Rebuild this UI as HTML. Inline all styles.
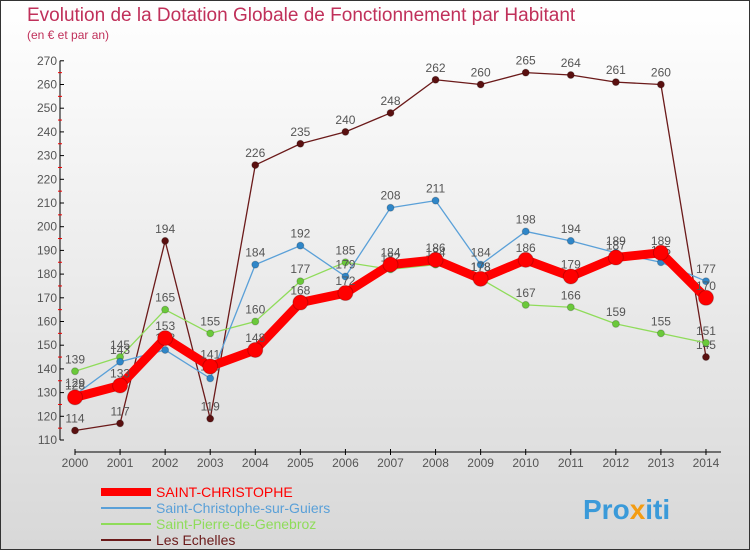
<!DOCTYPE html>
<html><head><meta charset="utf-8"><style>
body{margin:0}
#c{width:750px;height:550px;position:relative;font-family:"Liberation Sans",sans-serif;border:1px solid #333;box-sizing:border-box;background:linear-gradient(#fff,#d8d8d8)}
</style></head><body>
<div id="c">
<svg id="s" width="748" height="548" xmlns="http://www.w3.org/2000/svg">
<text x="26" y="20" font-size="19" fill="#c0305a">Evolution de la Dotation Globale de Fonctionnement par Habitant</text>
<text x="26" y="38" font-size="12" fill="#c0305a">(en € et par an)</text>
<g id="axes"></g><g id="series"></g><g id="legend"></g>
<text x="582" y="518" font-size="28" font-weight="bold" fill="#3a9ad9">Pro<tspan fill="#f39c12">x</tspan>iti</text>
</svg></div>
<script>
const years=[2000,2001,2002,2003,2004,2005,2006,2007,2008,2009,2010,2011,2012,2013,2014];
const yTicks=[110,120,130,140,150,160,170,180,190,200,210,220,230,240,250,260,270];
const sc=[128,133,153,141,148,168,172,184,186,178,186,179,187,189,170];
const scg=[129,143,148,136,184,192,179,208,211,184,198,194,189,185,177];
const spg=[139,145,165,155,160,177,185,182,184,178,167,166,159,155,151];
const ech=[114,117,194,119,226,235,240,248,262,260,265,264,261,260,145];
const names=["SAINT-CHRISTOPHE","Saint-Christophe-sur-Guiers","Saint-Pierre-de-Genebroz","Les Echelles"];
const NS="http://www.w3.org/2000/svg";
const x=i=>74+i*45.07, y=v=>439-(v-110)*2.37;
function mk(t,a,p){const e=document.createElementNS(NS,t);for(const k in a)e.setAttribute(k,a[k]);p.appendChild(e);return e;}
const ax=document.getElementById('axes');
const yl=mk('line',{x1:59,y1:y(270),x2:59,y2:439,stroke:'#000'},ax);


yTicks.forEach(v=>{mk('line',{x1:59,x2:63,y1:y(v),y2:y(v),stroke:'#000'},ax);
 if(v<270)mk('line',{x1:57,x2:61,y1:y(v+5),y2:y(v+5),stroke:'#e00'},ax);
 const t=mk('text',{x:56,y:y(v)+4,'font-size':12,fill:'#555','text-anchor':'end'},ax);t.textContent=v;
 
 });
const xl=mk('line',{x1:74,y1:451,x2:720,y2:451,stroke:'#000'},ax);


years.forEach((yr,i)=>{mk('line',{x1:x(i),x2:x(i),y1:448,y2:454,stroke:'#000'},ax);
 const t=mk('text',{x:x(i),y:466,'font-size':12,fill:'#555','text-anchor':'middle'},ax);t.textContent=yr;
 
 });
const sg=document.getElementById('series');
const defs=[[ech,'#6b1a1a','#5a1010',1.3,3.5,'les-echelles'],[spg,'#8fdc5a','#6ac93a',1.3,3.5,'saint-pierre'],[scg,'#5aa0d8','#2f86c8',1.3,3.5,'saint-christophe-sur-guiers'],[sc,'#f00','#f00',9,7.5,'saint-christophe']];
defs.forEach(([d,lc,pc,w,r,n])=>{
 const g=mk('g',{},sg);
 
 
 mk('polyline',{points:d.map((v,i)=>x(i)+','+y(v)).join(' '),fill:'none',stroke:lc,'stroke-width':w,'stroke-linejoin':'round'},g);
 d.forEach((v,i)=>{const c=mk('circle',{cx:x(i),cy:y(v),r:r,fill:pc,stroke:'rgba(0,0,0,0.2)'},g);
  
  
  const t=mk('text',{x:x(i),y:y(v)-8,'font-size':12,fill:'#555','text-anchor':'middle'},g);t.textContent=v;});
});
const lg=document.getElementById('legend');
const lc=['#f00','#5aa0d8','#8fdc5a','#6b1a1a'],lw=[8,2,2,2];
names.forEach((n,i)=>{const yy=491+i*16;
 mk('line',{x1:100,x2:150,y1:yy,y2:yy,stroke:lc[i],'stroke-width':lw[i]},lg);
 const t=mk('text',{x:155,y:yy+5,'font-size':14,fill:lc[i]},lg);t.textContent=n;
 
 });
</script></body></html>
